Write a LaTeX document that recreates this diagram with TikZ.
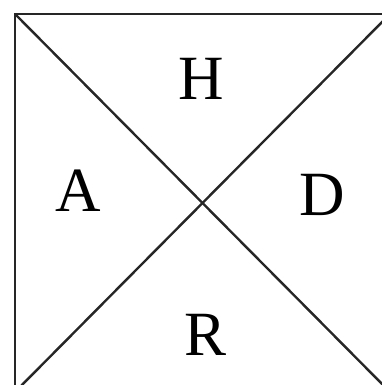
\documentclass[tikz,border=0pt]{standalone}
\usepackage{fontspec}
\setmainfont{Liberation Serif}
\usetikzlibrary{positioning}

\begin{document}
\begin{tikzpicture}[
  x=1pt, y=-1pt,
  edge/.style={draw=black!85, line width=2.4pt},
  letter/.style={inner sep=0pt, font=\fontsize{63}{63}\selectfont}
]
\useasboundingbox (0,0) rectangle (382,385);
\clip (0,0) rectangle (382,385);
\coordinate (tl) at (15,14);
\coordinate (tr) at (390,14);
\coordinate (bl) at (15,392);
\coordinate (br) at (390,392);

\draw[edge] (tl)--(tr)--(br)--(bl)--cycle;
\draw[edge] (tl)--(br);
\draw[edge] (tr)--(bl);

\node[letter] (h) at (201,79)  {H};
\node[letter] (a) at (78,191)  {A};
\node[letter] (d) at (322,195) {D};
\node[letter] (r) at (206,335) {R};
\end{tikzpicture}
\end{document}
